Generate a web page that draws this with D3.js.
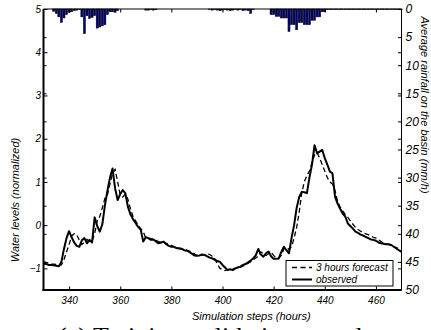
<!DOCTYPE html>
<html>
<head>
<meta charset="utf-8">
<script src="https://cdn.jsdelivr.net/npm/d3@7"></script>
<style>
  html, body { margin: 0; padding: 0; background: #fff; }
  svg { display: block; }
  text { font-family: "Liberation Sans", Arial, Helvetica, sans-serif; font-style: italic; fill: #000; }
</style>
</head>
<body>
<svg id="chart" width="431" height="330"></svg>
<script>
// Simulation hours (one sample per hour)
const hours = d3.range(330, 471);

// Observed water level (normalized), hours 330..470
const observed = [
  -0.88,-0.90,-0.92,-0.92,-0.93,-0.94,-0.95,-0.85,-0.55,-0.30,
  -0.14,-0.28,-0.40,-0.48,-0.50,-0.35,-0.30,-0.42,-0.34,-0.40,
   0.18,-0.02,-0.15, 0.02, 0.45, 0.80, 1.10, 1.31, 0.85, 0.58,
   0.72, 0.81, 0.74, 0.43, 0.25, 0.14, 0.05,-0.04,-0.10,-0.38,
  -0.28,-0.30,-0.34,-0.33,-0.38,-0.42,-0.40,-0.38,-0.44,-0.48,
  -0.50,-0.50,-0.53,-0.54,-0.55,-0.58,-0.59,-0.62,-0.66,-0.70,
  -0.71,-0.70,-0.68,-0.69,-0.72,-0.75,-0.77,-0.80,-0.83,-0.85,
  -0.92,-0.98,-1.04,-1.02,-1.04,-1.00,-0.98,-0.96,-0.92,-0.90,
  -0.86,-0.82,-0.77,-0.70,-0.55,-0.68,-0.73,-0.65,-0.61,-0.72,
  -0.78,-0.78,-0.77,-0.62,-0.50,-0.58,-0.65,-0.30, 0.00, 0.40,
   0.65, 0.77, 0.76, 0.74, 1.10, 1.40, 1.85, 1.66, 1.70, 1.74,
   1.55, 1.40, 1.24, 1.20, 0.66, 0.50, 0.38, 0.27, 0.20, 0.04,
  -0.02,-0.08,-0.15,-0.18,-0.22,-0.24,-0.27,-0.30,-0.33,-0.34,
  -0.36,-0.40,-0.42,-0.43,-0.44,-0.44,-0.46,-0.50,-0.54,-0.58,
  -0.62
];

// 3-hour-ahead forecast (normalized), hours 330..470
const forecast = [
  -0.85,-0.86,-0.88,-0.90,-0.90,-0.91,-0.92,-0.92,-0.80,-0.62,
  -0.45,-0.25,-0.20,-0.22,-0.35,-0.45,-0.40,-0.33,-0.38,-0.36,
  -0.20, 0.10, 0.20, 0.40, 0.62, 0.70, 0.95, 1.20, 1.29, 1.00,
   0.70, 0.65, 0.72, 0.60, 0.38, 0.20, 0.10, 0.00,-0.08,-0.15,
  -0.30,-0.30,-0.31,-0.33,-0.35,-0.38,-0.40,-0.40,-0.42,-0.45,
  -0.47,-0.50,-0.52,-0.53,-0.54,-0.56,-0.58,-0.60,-0.62,-0.66,
  -0.70,-0.71,-0.69,-0.68,-0.66,-0.68,-0.72,-0.78,-0.90,-1.00,
  -1.03,-1.05,-1.03,-1.02,-1.02,-1.00,-0.99,-0.97,-0.95,-0.92,
  -0.88,-0.85,-0.80,-0.76,-0.72,-0.62,-0.66,-0.70,-0.66,-0.63,
  -0.70,-0.76,-0.76,-0.70,-0.55,-0.52,-0.56,-0.50,-0.30,-0.05,
   0.30, 0.75, 1.00, 1.15, 1.25, 1.45, 1.62, 1.68, 1.55, 1.40,
   1.25, 1.10, 1.00, 0.95, 0.80, 0.55, 0.42, 0.33, 0.25, 0.18,
   0.10, 0.02,-0.05,-0.10,-0.14,-0.18,-0.20,-0.22,-0.25,-0.28,
  -0.30,-0.34,-0.38,-0.42,-0.44,-0.45,-0.47,-0.50,-0.52,-0.55,
  -0.60
];

// Average rainfall on the basin (mm/h), hours 330..470
const rainfall = [
  0.0, 0.0, 0.0, 0.0, 0.4, 0.8, 1.4, 2.4, 1.6, 1.0,
  0.6, 0.5, 0.3, 0.2, 0.1, 1.4, 4.4, 1.2, 1.7, 1.5,
  1.2, 3.4, 3.2, 3.0, 2.8, 1.0, 0.5, 0.5, 0.6, 0.3,
  0.0, 0.0, 0.0, 0.0, 0.0, 0.0, 0.0, 0.0, 0.0, 0.0,
  0.2, 0.2, 0.1, 0.2, 0.1, 0.0, 0.0, 0.0, 0.0, 0.0,
  0.0, 0.0, 0.0, 0.0, 0.0, 0.0, 0.0, 0.0, 0.0, 0.0,
  0.0, 0.0, 0.0, 0.0, 0.0, 0.1, 0.2, 0.1, 0.2, 0.3,
  0.2, 0.1, 0.2, 0.3, 0.2, 0.1, 0.2, 0.1, 0.3, 0.2,
  0.3, 0.8, 0.1, 0.0, 0.0, 0.0, 0.0, 0.0, 0.0, 1.0,
  1.0, 1.3, 1.3, 1.6, 1.6, 1.6, 4.0, 2.8, 2.8, 3.7,
  2.4, 2.4, 2.8, 2.8, 2.8, 2.0, 2.0, 1.4, 1.4, 0.5,
  0.5, 0.1, 0.1, 0.1, 0.1, 0.1, 0.1, 0.1, 0.1, 0.1,
  0.1, 0.1, 0.1, 0.1, 0.1, 0.1, 0.1, 0.1, 0.1, 0.1,
  0.1, 0.1, 0.1, 0.1, 0.1, 0.1, 0.1, 0.1, 0.1, 0.1,
  0.1
];

// Tick values
const xTicks = [340, 360, 380, 400, 420, 440, 460];
const levelTicks = [-1, 0, 1, 2, 3, 4, 5];
const rainTicks = d3.range(0, 55, 5);

// Texts
const xTitle = "Simulation steps (hours)";
const yLeftTitle = "Water levels (normalized)";
const yRightTitle = "Average rainfall on the basin (mm/h)";
const legendLabels = ["3 hours forecast", "observed"];
const caption = "(a) Training-validation samples";

const svg = d3.select("#chart");
const L = 43.5, R = 401.5, T = 9, B = 290;

const x = d3.scaleLinear().domain([330, 470]).range([L, R]);
const yL = d3.scaleLinear().domain([-1.5, 5]).range([B, T]);
const yR = d3.scaleLinear().domain([0, 50]).range([T, B]);
const fmt = d3.format("d");

// Rainfall bars hanging from the top edge
const bw = (x(331) - x(330)) * 0.8;
svg.append("g").selectAll("rect")
  .data(hours.map((h, i) => ({ h, v: rainfall[i] })).filter(d => d.v > 0))
  .join("rect")
  .attr("x", d => x(d.h) - bw / 2)
  .attr("y", yR(0))
  .attr("width", bw)
  .attr("height", d => yR(d.v) - yR(0))
  .attr("fill", "#00007a")
  .attr("stroke", "#000")
  .attr("stroke-width", 0.5);

// Water level lines
const line = d3.line().x((d, i) => x(hours[i])).y(d => yL(d));
svg.append("path").datum(forecast).attr("d", line)
  .attr("fill", "none").attr("stroke", "#000").attr("stroke-width", 1.3)
  .attr("stroke-dasharray", "5,3");
svg.append("path").datum(observed).attr("d", line)
  .attr("fill", "none").attr("stroke", "#000").attr("stroke-width", 2)
  .attr("stroke-linejoin", "round");

// Axes
function styleAxis(g, size) {
  g.selectAll("text").style("font-size", size + "px").style("font-style", "italic")
    .attr("fill", "#000");
  g.selectAll("line").attr("stroke", "#000");
}

const gx = svg.append("g").attr("transform", `translate(0,${B})`)
  .call(d3.axisBottom(x).tickValues(xTicks).tickFormat(fmt).tickSize(-3.5).tickPadding(6.5));
gx.select(".domain").remove();
styleAxis(gx, 10);

const gxTop = svg.append("g").attr("transform", `translate(0,${T})`)
  .call(d3.axisTop(x).tickValues(xTicks).tickSize(-3.5).tickFormat(""));
gxTop.select(".domain").remove();
styleAxis(gxTop, 10);

const gyL = svg.append("g").attr("transform", `translate(${L},0)`)
  .call(d3.axisLeft(yL).tickValues(levelTicks).tickFormat(fmt).tickSize(-4).tickPadding(2.5));
gyL.select(".domain").remove();
styleAxis(gyL, 10);
const gyLr = svg.append("g").attr("transform", `translate(${L},0)`)
  .call(d3.axisLeft(yR).tickValues(rainTicks).tickSize(-3).tickFormat(""));
gyLr.select(".domain").remove();
styleAxis(gyLr, 10);

const gyR = svg.append("g").attr("transform", `translate(${R},0)`)
  .call(d3.axisRight(yR).tickValues(rainTicks).tickFormat(fmt).tickSize(-3.5).tickPadding(4));
gyR.select(".domain").remove();
styleAxis(gyR, 12);
const gyRl = svg.append("g").attr("transform", `translate(${R},0)`)
  .call(d3.axisRight(yL).tickValues(levelTicks).tickSize(-3.5).tickFormat(""));
gyRl.select(".domain").remove();
styleAxis(gyRl, 10);

// Frame
svg.append("line").attr("x1", L).attr("x2", R).attr("y1", T).attr("y2", T)
  .attr("stroke", "#000").attr("stroke-width", 1);
svg.append("line").attr("x1", R).attr("x2", R).attr("y1", T).attr("y2", B)
  .attr("stroke", "#000").attr("stroke-width", 1);
svg.append("line").attr("x1", L).attr("x2", L).attr("y1", T).attr("y2", B + 1)
  .attr("stroke", "#000").attr("stroke-width", 2);
svg.append("line").attr("x1", L - 1).attr("x2", R).attr("y1", B).attr("y2", B)
  .attr("stroke", "#000").attr("stroke-width", 2);

// Legend
const lg = svg.append("g");
lg.append("rect").attr("x", 286).attr("y", 260.5).attr("width", 107).attr("height", 25.5)
  .attr("fill", "#fff").attr("stroke", "#000").attr("stroke-width", 1);
lg.append("line").attr("x1", 292).attr("x2", 312).attr("y1", 267.5).attr("y2", 267.5)
  .attr("stroke", "#000").attr("stroke-width", 1.3).attr("stroke-dasharray", "5,3.5");
lg.append("line").attr("x1", 292).attr("x2", 312).attr("y1", 279.5).attr("y2", 279.5)
  .attr("stroke", "#000").attr("stroke-width", 2);
lg.append("text").attr("x", 316).attr("y", 271).style("font-size", "10px").text(legendLabels[0]);
lg.append("text").attr("x", 316).attr("y", 283).style("font-size", "10px").text(legendLabels[1]);

// Axis titles
svg.append("text").attr("x", 192).attr("y", 320).style("font-size", "11px").text(xTitle);
svg.append("text").attr("transform", "translate(19,200) rotate(-90)")
  .attr("text-anchor", "middle").style("font-size", "11px").text(yLeftTitle);
svg.append("text").attr("transform", "translate(421,105) rotate(90)")
  .attr("text-anchor", "middle").style("font-size", "11px").text(yRightTitle);

// Caption below the figure
svg.append("text").attr("x", 58).attr("y", 345)
  .style("font-family", "'Liberation Serif', 'Times New Roman', serif")
  .style("font-style", "normal").style("font-size", "26px").text(caption);
</script>
</body>
</html>
